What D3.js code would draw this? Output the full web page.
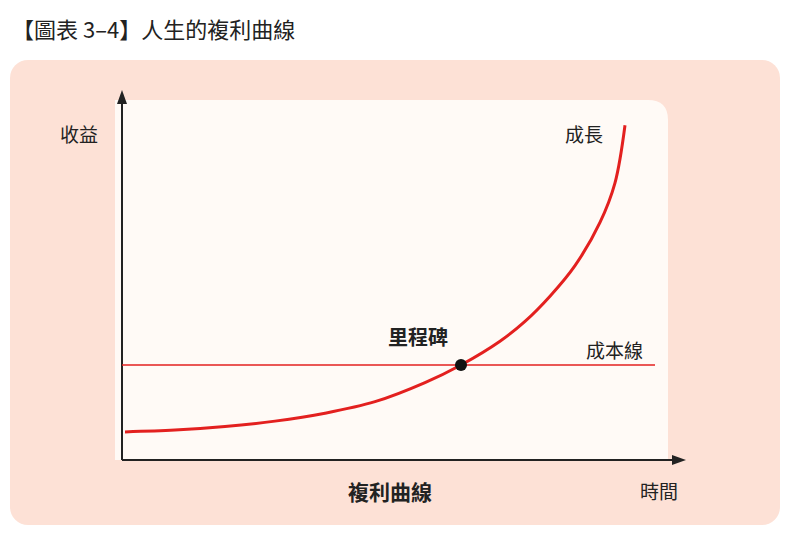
<!DOCTYPE html>
<html><head><meta charset="utf-8">
<script src="https://cdn.jsdelivr.net/npm/d3@7"></script>
<style>body{margin:0;background:#fff;font-family:"Noto Sans CJK TC","Noto Sans",sans-serif}</style>
</head><body><div id="chart"></div>
<script>
// time units vs. return
const times = [0, 1, 2, 3, 4, 5, 6, 6.72, 7.5, 8, 8.5, 9, 9.5, 9.8, 10]
const growth = [7.8, 8.3, 9.3, 10.8, 13, 16.2, 21.5, 26.4, 33, 38.5, 45.5, 54, 66, 77, 93]
const cost = 26.4
const milestoneT = 6.72

const svg = d3.select('#chart').append('svg').attr('width', 792).attr('height', 546)
const red = '#e3201f'

svg.append('text').attr('x', 12).attr('y', 38).attr('font-size', 22).attr('fill', '#222')
    .text('【圖表 3–4】人生的複利曲線')

svg.append('rect').attr('x', 10).attr('y', 60).attr('width', 770).attr('height', 465)
    .attr('rx', 18).attr('fill', '#fde1d6')
svg.append('path').attr('d', 'M115,100 H648 Q668,100 668,120 V460 H115 Z').attr('fill', '#fffaf6')

const x = d3.scaleLinear().domain([0, 10]).range([125, 625])
const y = d3.scaleLinear().domain([0, 100]).range([460, 100])

// axes
svg.append('line').attr('x1', 122).attr('y1', 460).attr('x2', 122).attr('y2', 100).attr('stroke', '#222').attr('stroke-width', 2)
svg.append('line').attr('x1', 122).attr('y1', 460).attr('x2', 678).attr('y2', 460).attr('stroke', '#222').attr('stroke-width', 2)
svg.append('path').attr('d', 'M122,90 L117,104 L127,104 Z').attr('fill', '#222')
svg.append('path').attr('d', 'M686,460 L672,455 L672,465 Z').attr('fill', '#222')

// cost line
svg.append('line').attr('x1', 122).attr('x2', 655).attr('y1', y(cost)).attr('y2', y(cost))
    .attr('stroke', red).attr('stroke-width', 1.5)

const line = d3.line().x((d, i) => x(times[i])).y(d => y(d)).curve(d3.curveCatmullRom.alpha(0.5))
svg.append('path').datum(growth).attr('d', line).attr('fill', 'none').attr('stroke', red).attr('stroke-width', 3)

svg.append('circle').attr('cx', x(milestoneT)).attr('cy', y(cost)).attr('r', 6).attr('fill', '#111')

const label = (t, px, py, size, weight, anchor) => svg.append('text').attr('x', px).attr('y', py)
    .attr('font-size', size).attr('font-weight', weight || 'normal').attr('text-anchor', anchor || 'start')
    .attr('fill', '#222').text(t)
label('收益', 60, 142, 19)
label('成長', 565, 142, 19)
label('成本線', 586, 358, 19)
label('里程碑', 388, 345, 20, 'bold')
label('複利曲線', 390, 500, 21, 'bold', 'middle')
label('時間', 640, 499, 19)
</script></body></html>
